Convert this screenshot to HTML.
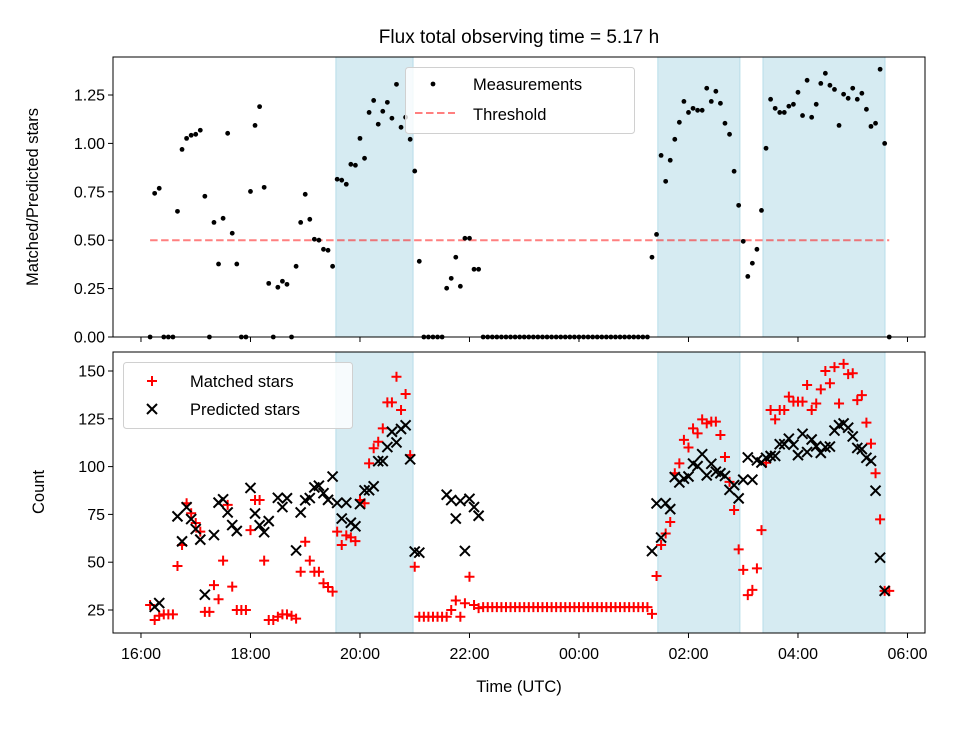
<!DOCTYPE html>
<html><head><meta charset="utf-8"><style>
body{margin:0;background:#fff;}
svg{font-family:"Liberation Sans","DejaVu Sans",sans-serif;}
</style></head><body>
<svg id="chart" width="960" height="720" viewBox="0 0 960 720" xmlns="http://www.w3.org/2000/svg"></svg>
<script>
// ---- data ----
const startHour = 16 + 10/60;      // first sample 16:10 UTC
const stepHour = 5/60;             // 5-minute cadence
const ratio = [0,0.742,0.768,0,0,0,0.649,0.969,1.026,1.042,1.047,1.068,0.727,0,0.592,0.377,0.613,1.052,0.536,0.377,0,0,0.752,1.093,1.19,0.773,0.277,0,0.257,0.288,0.272,0,0.365,0.592,0.737,0.608,0.505,0.5,0.453,0.448,0.365,0.815,0.81,0.789,0.892,0.887,1.026,0.923,1.16,1.222,1.099,1.166,1.212,1.13,1.305,1.083,1.135,1.021,0.857,0.391,0,0,0,0,0,0.252,0.303,0.412,0.262,0.51,0.51,0.35,0.35,
0,0,0,0,0,0,0,0,0,0,0,0,0,0,0,0,0,0,0,0,0,0,0,0,0,0,0,0,0,0,0,0,0,0,0,0,0,
0.412,0.53,0.938,0.804,0.913,1.021,1.109,1.217,1.16,1.181,1.171,1.171,1.285,1.217,1.269,1.207,1.104,1.047,0.856,0.68,0.494,0.313,0.381,0.453,0.654,0.975,1.228,1.181,1.16,1.16,1.192,1.202,1.264,1.144,1.326,1.135,1.202,1.31,1.362,1.3,1.279,1.093,1.254,1.233,1.285,1.228,1.259,1.176,1.088,1.104,1.383,1.0,0];
const matched = [27.6,19.8,22,22.7,22.7,22.7,48,59,80.8,75.6,70.5,66,24,24,38,30.6,50.8,80,37.2,25,25,25,66.8,82.5,82.5,50.8,19.8,19.8,21.5,22.7,22.7,22,20.5,45,60.7,50.8,45,45,39,37,34.6,66,59,64,63,61,82.5,80.8,101.7,109.6,113,120,133.6,133.6,147,129.6,138,106,47.6,21.5,21.5,21.5,21.5,21.5,21.5,21.5,25,30,21.5,28.5,42.4,27.6,26,
26.5,26.5,26.5,26.5,26.5,26.5,26.5,26.5,26.5,26.5,26.5,26.5,26.5,26.5,26.5,26.5,26.5,26.5,26.5,26.5,26.5,26.5,26.5,26.5,26.5,26.5,26.5,26.5,26.5,26.5,26.5,26.5,26.5,26.5,26.5,26.5,26.5,
23,42.8,59,65,71,96.5,101.7,114,110,120,117.4,124.7,122.6,123.5,123.5,116.5,105,92,77.3,56.7,46,32.8,35.5,46.8,66.8,102,129.6,124.7,129.6,129.6,136.6,134,134,134,142.7,129.6,133,140.4,150,143.6,152,133,153.7,148.4,148.8,134.8,137.4,123,112,96.5,72.4,35,35];
const spanStarts = [19.56, 25.44, 27.36];   // hours since 16:00 origin + 16
const spanEnds = [20.97, 26.94, 29.59];
const threshold = 0.5;
const xTickHours = [16,18,20,22,24,26,28,30];
const xTickLabels = ["16:00","18:00","20:00","22:00","00:00","02:00","04:00","06:00"];
const topTicks = [0,0.25,0.5,0.75,1.0,1.25];
const topTickLabels = ["0.00","0.25","0.50","0.75","1.00","1.25"];
const botTicks = [25,50,75,100,125,150];
const botTickLabels = ["25","50","75","100","125","150"];

// ---- layout ----
const L=113,R=925, T1=57,B1=337, T2=352,B2=633;
const xMin=15.489, xMax=30.32;
const X = h => L + (h-xMin)/(xMax-xMin)*(R-L);
const Y1 = v => B1 - (v-0)/(1.4463-0)*(B1-T1);
const Y2 = v => B2 - (v-12.97)/(159.94-12.97)*(B2-T2);
const NS="http://www.w3.org/2000/svg";
const svg=document.getElementById('chart');
function mk(tag, attrs, parent){const e=document.createElementNS(NS,tag);for(const k in attrs)e.setAttribute(k,attrs[k]);(parent||svg).appendChild(e);return e;}
const times = ratio.map((_,i)=>startHour+i*stepHour);

function panel(T,B,Y,ticks,labels,name){
  const g=mk('g',{});
  
  
  spanStarts.forEach((s,i)=>{
    const r=mk('rect',{x:X(s),y:T,width:X(spanEnds[i])-X(s),height:B-T,fill:'#add8e6','fill-opacity':0.5,stroke:'#add8e6','stroke-opacity':0.8,'stroke-width':1},g);
    
    
  });
  ticks.forEach((t,i)=>{
    const y=Y(t);
    mk('line',{x1:L-5,x2:L,y1:y,y2:y,stroke:'#000','stroke-width':1},g);
    const tx=mk('text',{x:L-8,y:y+5.5,'text-anchor':'end','font-size':16},g);
    tx.textContent=labels[i];
    
    
  });
  xTickHours.forEach(h=>{mk('line',{x1:X(h),x2:X(h),y1:B,y2:B+5,stroke:'#000','stroke-width':1},g);});
  return g;
}

// top panel
const gTop=panel(T1,B1,Y1,topTicks,topTickLabels,'ratio-panel');
const th=mk('line',{x1:X(times[0]),x2:X(times[times.length-1]),y1:Y1(threshold),y2:Y1(threshold),stroke:'#ff0000','stroke-opacity':0.5,'stroke-width':2,'stroke-dasharray':'7.5,3.5'},gTop);


ratio.forEach((v,i)=>{
  const c=mk('circle',{cx:X(times[i]),cy:Y1(v),r:2.4,fill:'#000'},gTop);
  
  
});
mk('rect',{x:L,y:T1,width:R-L,height:B1-T1,fill:'none',stroke:'#000','stroke-width':1},gTop);

// bottom panel
const gBot=panel(T2,B2,Y2,botTicks,botTickLabels,'count-panel');
matched.forEach((v,i)=>{
  const x=X(times[i]),y=Y2(v);
  const p=mk('path',{d:`M${x-5} ${y}H${x+5}M${x} ${y-5}V${y+5}`,stroke:'#ff0000','stroke-width':2,fill:'none'},gBot);
  
  
});
matched.forEach((v,i)=>{
  if(ratio[i]<=0) return;
  const pv=v/ratio[i];
  const x=X(times[i]),y=Y2(pv);
  const p=mk('path',{d:`M${x-5} ${y-5}L${x+5} ${y+5}M${x-5} ${y+5}L${x+5} ${y-5}`,stroke:'#000','stroke-width':2,fill:'none'},gBot);
  
  
});
mk('rect',{x:L,y:T2,width:R-L,height:B2-T2,fill:'none',stroke:'#000','stroke-width':1},gBot);
xTickHours.forEach((h,i)=>{
  const t=mk('text',{x:X(h),y:B2+26,'text-anchor':'middle','font-size':16});
  t.textContent=xTickLabels[i];
  
  
});
</script>
<svg width="0" height="0"></svg>
<script>
(function(){
const svg=document.getElementById('chart');
svg.insertAdjacentHTML('beforeend',`
<text x="519" y="43" text-anchor="middle" font-size="19">Flux total observing time = 5.17 h</text>
<text transform="translate(38,197) rotate(-90)" text-anchor="middle" font-size="16.5">Matched/Predicted stars</text>
<text transform="translate(44,492) rotate(-90)" text-anchor="middle" font-size="16.5">Count</text>
<text x="519" y="692" text-anchor="middle" font-size="16.5">Time (UTC)</text>
<g>
 <rect x="405.5" y="67.5" width="229" height="66" rx="3" fill="#fff" fill-opacity="0.8" stroke="#d0d0d0"/>
 <circle cx="433" cy="84" r="2.4" fill="#000"/>
 <text x="473" y="90" font-size="16.5">Measurements</text>
 <line x1="415" x2="455" y1="113" y2="113" stroke="#ff0000" stroke-opacity="0.5" stroke-width="2" stroke-dasharray="7.5,3.5"/>
 <text x="473" y="120" font-size="16.5">Threshold</text>
</g>
<g>
 <rect x="123.5" y="362.5" width="229" height="66" rx="3" fill="#fff" fill-opacity="0.8" stroke="#d0d0d0"/>
 <path d="M147 381H157M152 376V386" stroke="#ff0000" stroke-width="2"/>
 <text x="190" y="387" font-size="16.5">Matched stars</text>
 <path d="M147 404L157 414M147 414L157 404" stroke="#000" stroke-width="2"/>
 <text x="190" y="415" font-size="16.5">Predicted stars</text>
</g>`);
})();
</script>
</body></html>
